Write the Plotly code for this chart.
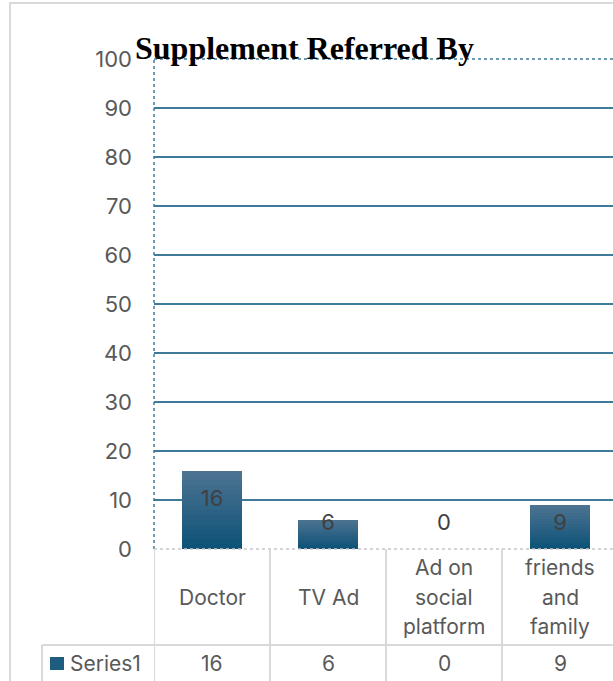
import plotly.graph_objects as go

# Chart data
categories = ["Doctor", "TV Ad", "Ad on social platform", "friends and family"]
category_lines = [["Doctor"], ["TV Ad"], ["Ad on", "social", "platform"], ["friends", "and", "family"]]
values = [16, 6, 0, 9]
series_name = "Series1"
y_ticks = [0, 10, 20, 30, 40, 50, 60, 70, 80, 90, 100]
title_text = "Supplement Referred By"

W, H = 613, 681
L, R, T, B = 154, 0, 59, 132
PW, PH = W - L - R, H - T - B

FONT = "Inter"
TXT = "#595959"
GRID = "#3e7b9b"
TABLE = "#d9d9d9"
TOP_C = (76, 114, 145)
BOT_C = (14, 83, 120)


def px_x(p):
    return (p - L) / PW


def px_y(p):
    return (H - B - p) / PH


fig = go.Figure()

# vertical gradient fill built from stacked, overlaid bars
N = 16
xs = list(range(len(categories)))
for k in range(N):
    t = k / (N - 1)
    c = tuple(round(TOP_C[i] + (BOT_C[i] - TOP_C[i]) * t) for i in range(3))
    fig.add_trace(go.Bar(
        x=xs, y=[v * (1 - k / N) for v in values], width=0.51,
        marker=dict(color="rgb(%d,%d,%d)" % c, line=dict(width=0)),
        showlegend=False, hoverinfo="skip"))

# value labels
fig.add_trace(go.Scatter(
    x=xs, y=[max(v - 6.0, 4.9) for v in values], mode="text",
    text=[str(v) for v in values],
    textfont=dict(family=FONT, size=22, color="#404040"),
    showlegend=False, hoverinfo="skip"))

shapes = []
# gridlines
for v in y_ticks[1:-1]:
    shapes.append(dict(type="line", xref="paper", yref="y", x0=0, x1=1, y0=v, y1=v,
                       line=dict(color=GRID, width=2), layer="below"))
# plot area border (dotted)
shapes.append(dict(type="line", xref="paper", yref="paper", x0=0, x1=1, y0=1, y1=1,
                   line=dict(color=GRID, width=1.5, dash="dot")))
shapes.append(dict(type="line", xref="paper", yref="paper", x0=0, x1=0, y0=0, y1=1,
                   line=dict(color=GRID, width=1.5, dash="dot")))
shapes.append(dict(type="line", xref="paper", yref="paper", x0=0, x1=1, y0=0, y1=0,
                   line=dict(color="#c8c8c8", width=1.5, dash="dot")))

# data table grid
for i in range(len(categories)):
    shapes.append(dict(type="line", xref="x", yref="paper", x0=i - 0.5, x1=i - 0.5,
                       y0=0, y1=px_y(H + 5), line=dict(color=TABLE, width=2)))
shapes.append(dict(type="line", xref="paper", yref="paper", x0=px_x(42), x1=1,
                   y0=px_y(645), y1=px_y(645), line=dict(color=TABLE, width=2)))
shapes.append(dict(type="line", xref="paper", yref="paper", x0=px_x(42), x1=px_x(42),
                   y0=px_y(645), y1=px_y(H + 5), line=dict(color=TABLE, width=2)))
# chart outer border
shapes.append(dict(type="line", xref="paper", yref="paper", x0=px_x(10), x1=px_x(10),
                   y0=px_y(3), y1=px_y(H + 5), line=dict(color=TABLE, width=2)))
shapes.append(dict(type="line", xref="paper", yref="paper", x0=px_x(9), x1=1,
                   y0=px_y(3), y1=px_y(3), line=dict(color=TABLE, width=2)))
# legend key
shapes.append(dict(type="rect", xref="paper", yref="paper", x0=px_x(50), x1=px_x(64),
                   y0=px_y(670), y1=px_y(657), line=dict(width=0),
                   fillcolor="rgb(30,92,128)"))

annotations = []
LINE_H = 29.5
for i, lines in enumerate(category_lines):
    n = len(lines)
    for j, ln in enumerate(lines):
        cy = 597 + (j - (n - 1) / 2) * LINE_H
        annotations.append(dict(x=i, xref="x", y=px_y(cy), yref="paper", text=ln,
                                showarrow=False, xanchor="center", yanchor="middle",
                                font=dict(family=FONT, size=21, color=TXT)))
    annotations.append(dict(x=i, xref="x", y=px_y(663), yref="paper", text=str(values[i]),
                            showarrow=False, xanchor="center", yanchor="middle",
                            font=dict(family=FONT, size=21, color=TXT)))
annotations.append(dict(x=px_x(68), xref="paper", y=px_y(663), yref="paper", text=series_name,
                        showarrow=False, xanchor="left", yanchor="middle",
                        font=dict(family=FONT, size=21, color=TXT)))

fig.update_layout(
    width=W, height=H,
    margin=dict(l=L, r=R, t=T, b=B, pad=0),
    paper_bgcolor="white", plot_bgcolor="white",
    barmode="overlay", bargap=0,
    title=dict(text="<b>%s</b>" % title_text, x=135 / W, xref="container", xanchor="left",
               y=1 - 48 / H, yref="container", yanchor="middle",
               font=dict(family="Liberation Serif", size=32, color="black")),
    xaxis=dict(range=[-0.5, -0.5 + PW / 116], showgrid=False, zeroline=False,
               showticklabels=False, showline=False, fixedrange=True),
    yaxis=dict(range=[0, 100], tickvals=y_ticks, showgrid=False, zeroline=False,
               showline=False, ticks="", ticklabelstandoff=21,
               tickfont=dict(family=FONT, size=22, color=TXT), fixedrange=True),
    shapes=shapes, annotations=annotations, showlegend=False,
)

fig.write_html("out.html")
